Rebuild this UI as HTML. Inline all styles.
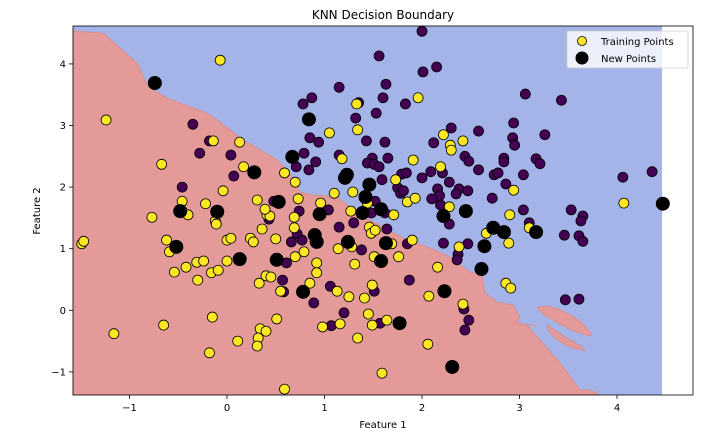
<!DOCTYPE html>
<html><head><meta charset="utf-8"><style>
body{margin:0;background:#fff;width:710px;height:436px;overflow:hidden}
svg{display:block;font-family:"DejaVu Sans","Liberation Sans",sans-serif}
</style></head><body>
<svg id="chart" width="710" height="436" viewBox="0 0 710 436" xmlns="http://www.w3.org/2000/svg">
<g id="regions">
<rect x="73" y="26" width="589" height="369" fill="#a4b4e9"/>
<path fill="#e39a98" stroke="#e08a84" stroke-width="0.8" d="M73,31 L103,33 L120,48 L137,63 L142,73 L148,87 L167,98 L193,108 L207,113 L217,120 L230,130 L243,140 L257,148 L277,160 L290,173 L300,192 L313,195 L337,197 L350,207 L363,217 L380,225 L397,235 L413,242 L430,248 L450,257 L460,265 L470,272 L482,275 L485,293 L497,302 L513,305 L520,317 L517,323 L537,326 L527,325 L540,340 L560,363 L580,390 L590,390 L600,395 L73,395 Z"/>
<path fill="#e39a98" stroke="#e08a84" stroke-width="0.8" d="M537,308 Q548,303 565,312 Q585,322 592,336 Q575,333 560,324 Q544,316 537,308 Z"/>
<path fill="#e39a98" stroke="#e08a84" stroke-width="0.8" d="M547,325 Q557,332 570,340 Q580,345 585,350 Q570,349 558,340 Q548,333 547,325 Z"/>
</g>
<g id="points"></g>
<rect x="73" y="26" width="620" height="369" fill="none" stroke="#000" stroke-width="0.8"/>
<g id="axes" font-size="10" fill="#000"></g>
<text x="383" y="19" text-anchor="middle" font-size="12">KNN Decision Boundary</text>
<text x="383" y="428" text-anchor="middle" font-size="10">Feature 1</text>
<text x="40" y="211" text-anchor="middle" font-size="10" transform="rotate(-90 40 211)">Feature 2</text>
<g>
<rect x="567" y="31" width="121" height="37" rx="2" fill="#fff" fill-opacity="0.8" stroke="#ccc" stroke-width="0.8"/>
<circle cx="582" cy="41" r="4.5" fill="#fde725" stroke="#000" stroke-width="0.8"/>
<text x="601" y="45" font-size="10">Training Points</text>
<circle cx="582" cy="58" r="6.5" fill="#000"/>
<text x="601" y="62" font-size="10">New Points</text>
</g>
</svg>
<script>
const xTicks=[-1,0,1,2,3,4];
const yTicks=[-1,0,1,2,3,4];
const yellowX=[-1.49,-1.47,-1.24,-1.16,-0.77,-0.67,-0.65,-0.62,-0.59,-0.54,-0.42,-0.40,-0.46,-0.31,-0.30,-0.24,-0.16,-0.09,-0.12,-0.11,-0.15,-0.18,0.00,0.04,0.00,0.11,0.24,0.27,0.36,0.40,0.45,0.33,0.34,0.40,0.32,0.31,0.51,0.59,0.50,0.69,0.69,0.70,0.79,0.92,0.92,0.85,0.55,1.13,0.98,1.16,1.25,1.14,1.28,1.31,1.41,1.34,1.45,1.49,1.49,1.51,1.46,1.48,1.52,1.64,1.59,0.41,0.44,-0.07,-0.14,0.13,0.17,0.59,0.70,-0.04,-0.22,0.31,0.39,0.73,0.96,1.05,1.34,1.33,1.18,1.10,1.29,1.27,1.44,1.96,2.22,2.42,2.29,2.30,1.91,2.19,1.73,1.85,1.93,2.28,2.94,1.71,2.90,4.07,1.90,1.69,1.76,2.16,2.38,2.66,2.89,3.10,2.86,2.91,2.07,2.42,2.06];
const yellowY=[1.08,1.12,3.09,-0.38,1.51,2.37,-0.24,1.14,0.95,0.62,0.70,1.55,1.77,0.78,0.49,0.80,0.61,0.65,1.45,1.40,-0.11,-0.69,1.14,1.17,0.80,-0.50,1.17,1.11,1.32,0.56,0.54,0.44,-0.30,-0.34,-0.45,-0.58,-0.14,-1.28,1.16,1.51,1.34,0.87,0.95,0.77,0.61,0.44,0.31,0.31,-0.27,-0.22,0.22,1.00,1.03,0.75,0.20,-0.45,-0.06,-0.24,0.41,0.87,1.35,1.25,1.30,-0.16,-1.02,1.55,1.53,4.06,2.75,2.73,2.33,2.23,2.08,1.94,1.73,1.79,1.64,1.81,1.74,2.88,2.93,3.35,2.46,1.90,1.92,1.61,1.74,3.45,2.85,2.75,2.68,2.60,2.44,2.33,2.12,1.76,1.82,1.68,1.95,1.55,1.55,1.74,1.14,1.08,0.87,0.70,1.03,1.25,1.09,1.34,0.44,0.36,0.23,0.10,-0.55];
const purpleX=[0.43,0.66,0.72,0.77,0.61,0.57,0.58,0.89,1.06,1.15,1.30,1.38,1.20,1.07,1.51,1.57,1.64,0.74,-0.35,-0.18,-0.28,0.04,0.07,-0.46,0.48,1.04,0.78,0.87,1.15,1.56,1.63,1.60,1.35,1.53,1.32,0.85,0.94,1.43,1.62,0.79,1.15,0.91,0.71,0.84,1.49,1.44,1.51,1.56,1.65,1.59,1.52,1.48,1.62,2.00,2.01,2.15,1.83,3.06,3.43,2.94,2.58,2.30,3.26,2.93,2.95,2.12,2.44,2.48,2.84,2.84,3.17,3.21,2.58,2.09,2.21,2.00,1.79,1.84,2.74,2.78,3.04,2.86,2.28,2.16,2.38,2.35,2.47,2.18,2.10,1.75,1.78,1.81,2.19,2.72,4.06,4.36,3.04,3.53,3.65,2.28,1.85,2.22,2.47,2.37,2.36,3.10,3.63,3.46,3.61,3.65,1.87,2.43,2.48,2.44,3.47,3.61];
const purpleY=[1.48,1.11,1.24,1.14,0.77,0.49,0.30,0.12,0.39,1.35,1.42,0.98,-0.04,-0.25,0.31,-0.21,1.32,1.61,3.02,2.75,2.55,2.52,2.18,2.00,1.77,1.63,3.35,3.45,3.62,4.13,3.67,3.45,3.37,3.20,3.12,2.80,2.73,2.75,2.73,2.55,2.52,2.41,2.33,2.28,2.47,2.39,2.37,2.33,2.47,2.12,1.77,1.58,1.58,4.53,3.87,3.95,3.35,3.51,3.41,3.04,2.91,2.96,2.85,2.80,2.68,2.72,2.50,2.42,2.47,2.41,2.46,2.38,2.28,2.25,2.23,2.15,2.21,2.23,2.20,2.23,2.20,2.05,2.08,1.97,1.97,1.89,1.94,1.86,1.81,1.99,1.90,1.94,1.71,1.82,2.16,2.25,1.63,1.63,1.53,1.40,1.08,1.09,1.08,0.91,0.82,1.42,1.45,1.22,1.21,1.12,0.49,0.02,-0.16,-0.32,0.17,0.18];
const newX=[-0.74,0.84,0.67,0.28,1.23,1.21,1.46,1.42,1.58,0.53,-0.48,-0.10,0.95,1.39,-0.52,0.13,0.51,0.90,0.92,0.78,1.24,1.58,1.63,4.47,2.45,2.22,2.73,2.84,3.17,2.64,2.61,2.23,1.77,2.31];
const newY=[3.69,3.10,2.49,2.24,2.20,2.15,2.04,1.84,1.64,1.76,1.61,1.60,1.56,1.58,1.03,0.83,0.82,1.22,1.11,0.30,1.11,0.80,1.09,1.73,1.61,1.53,1.34,1.27,1.27,1.04,0.67,0.31,-0.21,-0.92];

const NS="http://www.w3.org/2000/svg";
function sx(v){return 227+v*97.5;}
function sy(v){return 310.3-v*61.6;}
const pts=document.getElementById('points');
const axes=document.getElementById('axes');
function dot(x,y,r,fill,stroke,name){
  const c=document.createElementNS(NS,'circle');
  c.setAttribute('cx',sx(x));c.setAttribute('cy',sy(y));c.setAttribute('r',r);
  c.setAttribute('fill',fill);
  if(stroke){c.setAttribute('stroke',stroke);c.setAttribute('stroke-width','0.8');}
  
  
  pts.appendChild(c);
}
for(let i=0;i<purpleX.length;i++){dot(purpleX[i],purpleY[i],5,'#440154','#000','training-point-class-0');}
for(let i=0;i<yellowX.length;i++){dot(yellowX[i],yellowY[i],5,'#fde725','#000','training-point-class-1');}
for(let i=0;i<newX.length;i++){dot(newX[i],newY[i],7,'#000',null,'new-point');}
xTicks.forEach(t=>{
  const l=document.createElementNS(NS,'line');
  l.setAttribute('x1',sx(t));l.setAttribute('x2',sx(t));l.setAttribute('y1',395);l.setAttribute('y2',399);l.setAttribute('stroke','#000');l.setAttribute('stroke-width','0.8');
  
  
  axes.appendChild(l);
  const tx=document.createElementNS(NS,'text');
  tx.setAttribute('x',sx(t));tx.setAttribute('y',411);tx.setAttribute('text-anchor','middle');
  tx.textContent=t<0?'\u2212'+Math.abs(t):String(t);
  
  
  axes.appendChild(tx);
});
yTicks.forEach(t=>{
  const l=document.createElementNS(NS,'line');
  l.setAttribute('x1',69);l.setAttribute('x2',73);l.setAttribute('y1',sy(t));l.setAttribute('y2',sy(t));l.setAttribute('stroke','#000');l.setAttribute('stroke-width','0.8');
  
  
  axes.appendChild(l);
  const tx=document.createElementNS(NS,'text');
  tx.setAttribute('x',66);tx.setAttribute('y',sy(t)+3.5);tx.setAttribute('text-anchor','end');
  tx.textContent=t<0?'\u2212'+Math.abs(t):String(t);
  
  
  axes.appendChild(tx);
});
</script>
</body></html>
